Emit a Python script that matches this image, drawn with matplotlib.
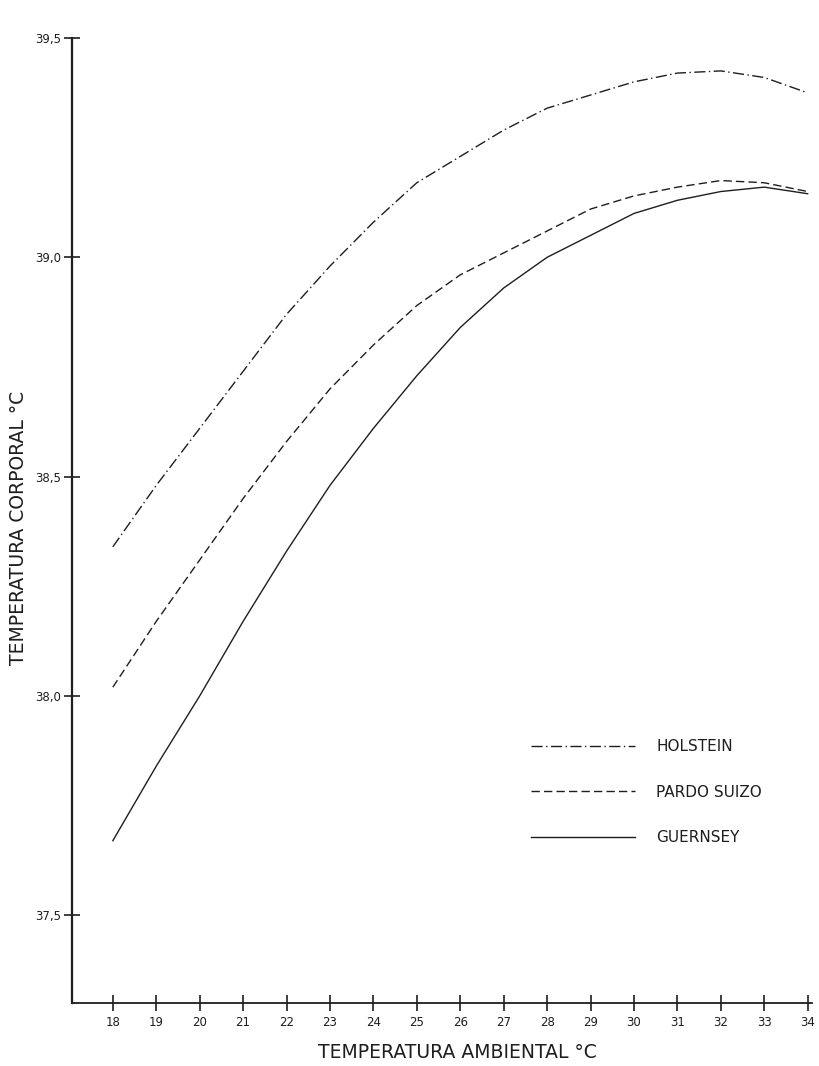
import matplotlib
matplotlib.use("Agg")
import matplotlib.pyplot as plt

# ---- data ----
temp_ambiental = [18, 19, 20, 21, 22, 23, 24, 25, 26, 27, 28, 29, 30, 31, 32, 33, 34]
holstein = [38.34, 38.48, 38.61, 38.74, 38.87, 38.98, 39.08, 39.17, 39.23, 39.29,
            39.34, 39.37, 39.40, 39.42, 39.425, 39.41, 39.375]
pardo_suizo = [38.02, 38.17, 38.31, 38.45, 38.58, 38.70, 38.80, 38.89, 38.96, 39.01,
               39.06, 39.11, 39.14, 39.16, 39.175, 39.17, 39.15]
guernsey = [37.67, 37.84, 38.00, 38.17, 38.33, 38.48, 38.61, 38.73, 38.84, 38.93,
            39.00, 39.05, 39.10, 39.13, 39.15, 39.16, 39.145]
series_names = ["HOLSTEIN", "PARDO SUIZO", "GUERNSEY"]
x_ticks = list(range(18, 35))
x_tick_labels = [str(v) for v in x_ticks]
y_ticks = [37.5, 38.0, 38.5, 39.0, 39.5]
y_tick_labels = ["37,5", "38,0", "38,5", "39,0", "39,5"]
x_title = "TEMPERATURA AMBIENTAL °C"
y_title = "TEMPERATURA CORPORAL °C"

ink = "#1e1e1e"
plt.rcParams['font.family'] = ['DejaVu Sans']

fig = plt.figure(figsize=(8.19, 10.66), dpi=100)
ax = fig.add_axes([72/819, 1 - 1003/1066, (812-72)/819, (1003-38)/1066])

ax.plot(temp_ambiental, holstein, color=ink, lw=1.0, linestyle=(0, (8, 2.5, 1, 2.5)),
        label=series_names[0])
ax.plot(temp_ambiental, pardo_suizo, color=ink, lw=1.0, linestyle=(0, (6, 3)),
        label=series_names[1])
ax.plot(temp_ambiental, guernsey, color=ink, lw=1.0, linestyle='-',
        label=series_names[2])

ax.set_xlim(17.06, 34.1)
ax.set_ylim(37.30, 39.5)

for s in ['top', 'right']:
    ax.spines[s].set_visible(False)
ax.spines['left'].set_linewidth(1.6)
ax.spines['bottom'].set_linewidth(1.3)
ax.spines['left'].set_color(ink)
ax.spines['bottom'].set_color(ink)

ax.set_xticks(x_ticks)
ax.set_xticklabels(x_tick_labels)
ax.set_yticks(y_ticks)
ax.set_yticklabels(y_tick_labels)
ax.tick_params(axis='x', direction='inout', length=11, width=1.2, colors=ink,
               labelsize=8.5, pad=4)
ax.tick_params(axis='y', direction='inout', length=12, width=1.2, colors=ink,
               labelsize=8.5, pad=2)

ax.set_xlabel(x_title, fontsize=13.5, color=ink)
ax.xaxis.set_label_coords((457-72)/740, -(1043-1003)/965)
ax.set_ylabel(y_title, fontsize=13.5, color=ink)
ax.yaxis.set_label_coords(-(72-28)/740, (1003-528)/965)

leg = ax.legend(loc='upper left', bbox_to_anchor=((531-72)/740, (1003-739)/965),
                frameon=False, fontsize=11, handlelength=6.8, handletextpad=1.4,
                labelspacing=2.0, borderpad=0, borderaxespad=0)
for t in leg.get_texts():
    t.set_color(ink)

fig.savefig("out.png", dpi=100, facecolor='white')
